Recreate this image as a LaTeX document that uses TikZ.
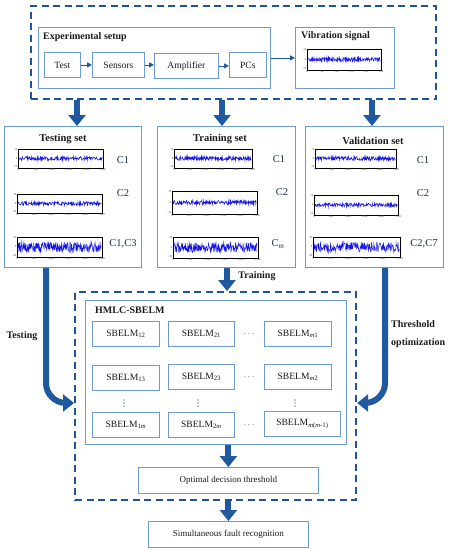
\documentclass[tikz,border=0pt]{standalone}
\usepackage{fontspec}
\setmainfont{Liberation Serif}
\usetikzlibrary{arrows.meta,calc}
\definecolor{dashblue}{HTML}{1F5496}
\definecolor{arrblue}{HTML}{1F5AA0}
\definecolor{boxblue}{HTML}{6B9BD2}
\definecolor{txt}{HTML}{1A1A1A}
\definecolor{clab}{HTML}{1B2F4F}
\definecolor{sigblue}{HTML}{1414F0}
\newcommand\miniplot[7]{%
  \pgfmathsetmacro\mpA{#1+0.8}%
  \pgfmathsetmacro\mpB{#3-0.8}%
  \pgfmathsetmacro\mpC{(#2+#4)/2}%
  \draw[sig] plot[domain=\mpA:\mpB,samples=220] (\x,{\mpC+#5*rand});
  \draw[frame] (#1,#2) rectangle (#3,#4);
  \foreach \i in {0,...,5}{%
    \pgfmathtruncatemacro\lab{\i*#7}%
    \node[tick,anchor=north] at ({#1+\i*(#3-#1)/5},#4) {\lab};}
  \node[tick,anchor=east] at (#1,#2+1) {#6};
  \node[tick,anchor=east] at (#1,\mpC) {0};
  \node[tick,anchor=east] at (#1,#4-1) {-#6};
}
\newcommand\vdotsat[1]{%
  \fill[txt] ($(#1)+(0,-3)$) circle (0.55pt) (#1) circle (0.55pt) ($(#1)+(0,3)$) circle (0.55pt);}
\begin{document}
\begin{tikzpicture}[x=1pt,y=-1pt,
  box/.style={draw=boxblue,line width=0.8pt,inner sep=0pt,anchor=north west,text=txt,font=\fontsize{9.6}{11}\selectfont},
  dashbox/.style={draw=dashblue,line width=2.2pt,dash pattern=on 7pt off 4.5pt,anchor=north west,inner sep=0pt},
  ttl/.style={text=txt,font=\fontsize{10}{12}\selectfont\bfseries,inner sep=0pt},
  settl/.style={text=txt,font=\fontsize{10.5}{12}\selectfont\bfseries,inner sep=0pt},
  clabel/.style={text=clab,font=\fontsize{10.5}{12}\selectfont,inner sep=0pt},
  bigarrow/.style={draw=arrblue,line width=6pt,-{Triangle[width=17pt,length=11pt]}},
  smallarr/.style={draw=arrblue,line width=0.8pt,-{Triangle[width=5pt,length=5pt]}},
  sig/.style={draw=sigblue,line width=0.5pt},
  frame/.style={draw=black,line width=0.4pt},
  tick/.style={font=\fontsize{3}{3}\selectfont,inner sep=0.4pt,text=black!70},
  dots/.style={text=txt,font=\fontsize{9}{10}\selectfont,inner sep=0pt}]
\useasboundingbox (0,0) rectangle (453,550);
\pgfmathsetseed{11}
% ---------- top block
\node[dashbox,minimum width=405pt,minimum height=93pt] (top) at (30,5) {};
\node[box,minimum width=232pt,minimum height=61pt] (setup) at (38,27) {};
\node[ttl,anchor=west] (setupt) at (43,37) {Experimental setup};
\node[box,minimum width=36pt,minimum height=25pt] (test) at (44,52) {Test};
\node[box,minimum width=52pt,minimum height=25pt] (sens) at (92,52) {Sensors};
\node[box,minimum width=64pt,minimum height=25pt] (amp) at (154,53) {Amplifier};
\node[box,minimum width=37pt,minimum height=25pt] (pcs) at (229,52) {PCs};
\draw[smallarr] (test.east) -- (test.east -| sens.west);
\draw[smallarr] (sens.east) -- (sens.east -| amp.west);
\draw[smallarr] (amp.east) -- (amp.east -| pcs.west);
\node[box,minimum width=99pt,minimum height=61pt] (vib) at (295,27) {};
\node[ttl,anchor=west] (vibt) at (301,36) {Vibration signal};
\draw[smallarr] (setup.east) -- (vib.west);
\miniplot{307}{49}{381}{70}{2}{10}{50}
% ---------- three sets
\node[box,minimum width=137pt,minimum height=141pt] (tset) at (4,126) {};
\node[box,minimum width=138pt,minimum height=141pt] (trset) at (157,126) {};
\node[box,minimum width=138pt,minimum height=141pt] (vset) at (305,126) {};
\coordinate (a1) at (77,126);
\coordinate (a2) at (222,126);
\coordinate (a3) at (372,126);
\draw[bigarrow] (top.south -| a1) -- (a1);
\draw[bigarrow] (top.south -| a2) -- (a2);
\draw[bigarrow] (top.south -| a3) -- (a3);
\node[settl] (tsett) at (63,139) {Testing set};
\node[settl] (trsett) at (220,139) {Training set};
\node[settl] (vsett) at (373,141) {Validation set};
\miniplot{18}{149}{103}{168}{2}{10}{500}
\miniplot{17}{194}{102}{213}{2}{10}{500}
\miniplot{17}{237}{102}{257}{5}{20}{500}
\miniplot{174}{149}{252}{168}{2}{10}{500}
\miniplot{172}{191}{257}{214}{2.2}{10}{500}
\miniplot{173}{237}{258}{258}{5}{20}{500}
\miniplot{315}{149}{396}{168}{2}{10}{500}
\miniplot{314}{195}{398}{215}{2}{10}{500}
\miniplot{313}{237}{400}{257}{5}{20}{500}
\node[clabel] (l11) at (123,160) {C1};
\node[clabel] (l12) at (123,193) {C2};
\node[clabel] (l13) at (123,244) {C1,C3};
\node[clabel] (l21) at (279,159) {C1};
\node[clabel] (l22) at (282,192) {C2};
\node[clabel] (l23) at (278,244) {C\textsubscript{\textit{m}}};
\node[clabel] (l31) at (423,160) {C1};
\node[clabel] (l32) at (423,193) {C2};
\node[clabel] (l33) at (424,244) {C2,C7};
% ---------- inner block
\node[dashbox,minimum width=281pt,minimum height=208pt] (inner) at (74,291) {};
\node[box,minimum width=261pt,minimum height=144pt] (hmlc) at (85,300) {};
\node[ttl,anchor=west] (hmlct) at (95,310) {HMLC-SBELM};
\coordinate (a4) at (227,291);
\draw[bigarrow] (trset.south -| a4) -- (a4);
\node[ttl] (trl) at (257,276) {Training};
% SBELM boxes
\node[box,minimum width=67pt,minimum height=25pt] (s12) at (92,321) {SBELM\textsubscript{12}};
\node[box,minimum width=66pt,minimum height=25pt] (s21) at (168,321) {SBELM\textsubscript{21}};
\node[box,minimum width=67pt,minimum height=25pt] (sm1) at (264,321) {SBELM\textsubscript{\textit{m}1}};
\node[box,minimum width=67pt,minimum height=25pt] (s13) at (92,365) {SBELM\textsubscript{13}};
\node[box,minimum width=66pt,minimum height=25pt] (s23) at (168,364) {SBELM\textsubscript{23}};
\node[box,minimum width=67pt,minimum height=25pt] (sm2) at (264,364) {SBELM\textsubscript{\textit{m}2}};
\node[box,minimum width=67pt,minimum height=25pt] (s1m) at (92,412) {SBELM\textsubscript{1\textit{m}}};
\node[box,minimum width=66pt,minimum height=25pt] (s2m) at (168,412) {SBELM\textsubscript{2\textit{m}}};
\node[box,minimum width=76pt,minimum height=25pt] (smm) at (264,411) {SBELM\textsubscript{\textit{m}(\textit{m}-1)}};
\node[dots] (h1) at (249,334) {$\cdots$};
\node[dots] (h2) at (249,377) {$\cdots$};
\node[dots] (h3) at (249,425) {$\cdots$};
\coordinate (v1) at (124,403);
\coordinate (v2) at (198,403);
\coordinate (v3) at (295,403);
\vdotsat{v1}
\vdotsat{v2}
\vdotsat{v3}
% bottom
\node[box,minimum width=180pt,minimum height=26pt,font=\fontsize{9}{10}\selectfont] (opt) at (138,467) {Optimal decision threshold};
\node[box,minimum width=160pt,minimum height=26pt,font=\fontsize{9}{10}\selectfont] (sim) at (148,521) {Simultaneous fault recognition};
\draw[bigarrow] (hmlc.south -| opt.north) -- (opt.north);
\draw[bigarrow] (inner.south -| sim.north) -- (sim.north);
% curved arrows
\coordinate (c1) at (46,403);
\coordinate (c2) at (385,403);
\draw[bigarrow,rounded corners=20pt] (tset.south -| c1) |- (inner.west |- c1);
\draw[bigarrow,rounded corners=20pt] (vset.south -| c2) |- (inner.east |- c2);
\node[ttl] (tl) at (22,336) {Testing};
\node[ttl,align=left,anchor=west,font=\fontsize{10}{18}\selectfont\bfseries] (thl) at (391,334) {Threshold\\optimization};
\end{tikzpicture}
\end{document}
